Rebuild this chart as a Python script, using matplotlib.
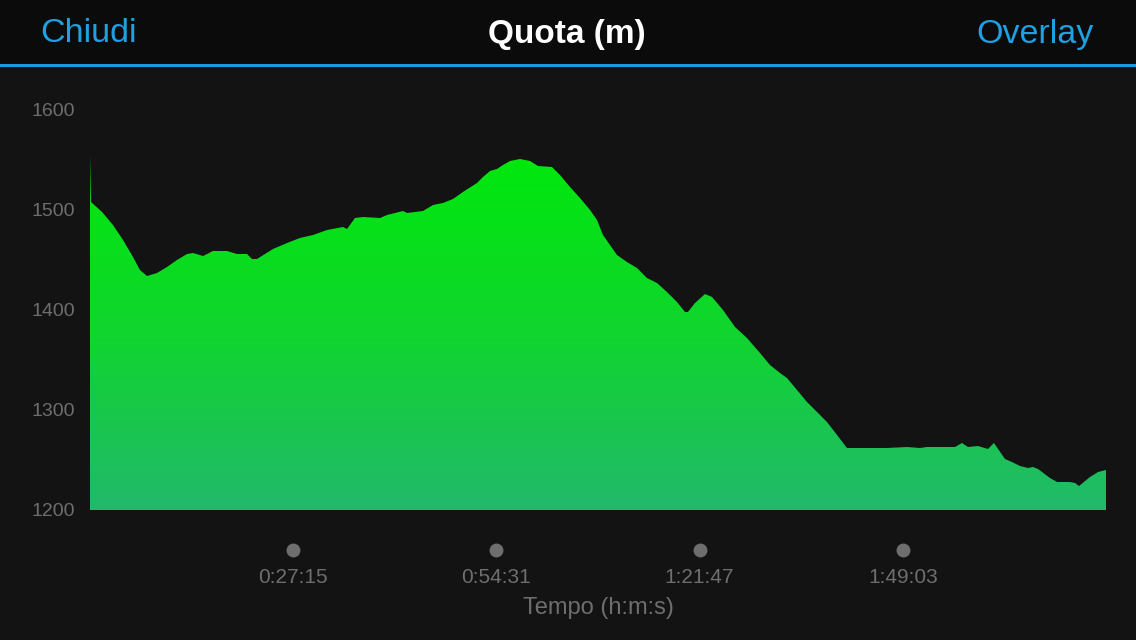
import numpy as np
import matplotlib.pyplot as plt
from matplotlib.colors import LinearSegmentedColormap

# profilo altimetrico (tempo in secondi, quota in metri)
tempo = [0, 8, 97, 185, 266, 346, 402, 459, 539, 620, 700, 781, 829, 910, 990,
         1103, 1183, 1264, 1304, 1344, 1473, 1586, 1690, 1795, 1908, 2036, 2069,
         2133, 2197, 2334, 2391, 2519, 2552, 2680, 2761, 2841, 2922, 3002, 3115,
         3163, 3220, 3276, 3324, 3381, 3461, 3542, 3606, 3719, 3783, 3864, 3944,
         4025, 4081, 4129, 4242, 4322, 4403, 4483, 4564, 4644, 4725, 4789, 4813,
         4870, 4950, 5007, 5095, 5192, 5288, 5393, 5473, 5554, 5610, 5691, 5771,
         5852, 5932, 6013, 6093, 6415, 6576, 6681, 6737, 6963, 7019, 7067, 7148,
         7228, 7276, 7365, 7421, 7486, 7550, 7590, 7631, 7727, 7784, 7888, 7929,
         7961, 8049, 8114, 8178]
quota = [1555, 1508, 1498, 1485, 1470, 1453, 1440, 1434, 1437, 1443, 1450, 1456,
         1457, 1454, 1459, 1459, 1456, 1456, 1451, 1451, 1461, 1467, 1472, 1475,
         1480, 1483, 1481, 1492, 1493, 1492, 1495, 1499, 1497, 1499, 1505, 1507,
         1511, 1518, 1527, 1533, 1539, 1541, 1545, 1549, 1551, 1549, 1544, 1543,
         1535, 1523, 1512, 1500, 1490, 1475, 1455, 1448, 1442, 1432, 1427, 1418,
         1408, 1398, 1398, 1407, 1416, 1413, 1400, 1383, 1372, 1357, 1345, 1337,
         1332, 1320, 1308, 1298, 1288, 1275, 1262, 1262, 1263, 1262, 1263, 1263,
         1267, 1263, 1264, 1261, 1267, 1251, 1248, 1244, 1242, 1243, 1241, 1232,
         1228, 1228, 1227, 1224, 1233, 1238, 1240]

durata = 8178
tick_x = [1635, 3271, 4907, 6543]
tick_lab = ['0:27:15', '0:54:31', '1:21:47', '1:49:03']
tick_y = [1200, 1300, 1400, 1500, 1600]

plt.rcParams['font.family'] = ['Liberation Sans', 'DejaVu Sans']

fig = plt.figure(figsize=(11.36, 6.4), dpi=100, facecolor='#131313')

# barra superiore
fig.patches.append(plt.Rectangle((0, 1 - 64/640), 1, 64/640, transform=fig.transFigure,
                                 facecolor='#0b0b0b', zorder=0))
fig.patches.append(plt.Rectangle((0, 1 - 66.5/640), 1, 2/640, transform=fig.transFigure,
                                 facecolor='#1b9bd9', zorder=1))
fig.text(40/1136, 1 - 34/640, 'Chiudi', color='#1ea0e2', fontsize=24.5, va='center', ha='left')
fig.text(567/1136, 1 - 34/640, 'Quota (m)', color='white', fontsize=24, va='center',
         ha='center', fontweight='bold')
fig.text(1094/1136, 1 - 34/640, 'Overlay', color='#1ea0e2', fontsize=24.5, va='center', ha='right')

ax = fig.add_axes([90/1136, 1 - 510/640, 1016/1136, 400/640])
ax.set_facecolor('#131313')
ax.set_xlim(0, durata)
ax.set_ylim(1200, 1600)

# riempimento con gradiente
poly = ax.fill_between(tempo, quota, 1200, color='none', lw=0)
cmap = LinearSegmentedColormap.from_list('g', ['#22b96c', '#10d52e', '#00e80c'])
grad = np.linspace(0, 1, 256).reshape(-1, 1)
img = ax.imshow(grad, extent=[0, durata, 1200, max(quota)], origin='lower',
                aspect='auto', cmap=cmap, zorder=2)
img.set_clip_path(poly.get_paths()[0], transform=ax.transData)

for s in ax.spines.values():
    s.set_visible(False)

ax.set_yticks(tick_y)
ax.set_yticklabels([str(v) for v in tick_y])
ax.tick_params(axis='y', length=0, pad=11, labelcolor='#6e6e6e', labelsize=14)

ax.set_xticks(tick_x)
ax.set_xticklabels(tick_lab)
ax.tick_params(axis='x', length=0, pad=42, labelcolor='#6e6e6e', labelsize=15)
ax.plot(tick_x, [-0.1] * len(tick_x), 'o', color='#6e6e6e', ms=9,
        transform=ax.get_xaxis_transform(), clip_on=False)

fig.text(598/1136, 1 - 608/640, 'Tempo (h:m:s)', color='#6e6e6e', fontsize=17,
         ha='center', va='center')

fig.savefig('out.png', dpi=100, facecolor=fig.get_facecolor())
